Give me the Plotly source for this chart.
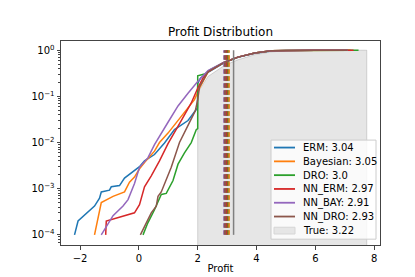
import plotly.graph_objects as go

# ---------------- data ----------------
labels = ["ERM", "Bayesian", "DRO", "NN_ERM", "NN_BAY", "NN_DRO"]
means = [3.04, 3.05, 3.0, 2.97, 2.91, 2.93]
true_mean = 3.22
colors = ["#1f77b4", "#ff7f0e", "#2ca02c", "#d62728", "#9467bd", "#8c564b"]

erm_x = [-2.19, -2.07, -1.51, -1.45, -1.34, -1.28, -1.0, -0.94, -0.66, -0.49, -0.2, 0.02, 0.19, 0.53,
         0.87, 1.21, 1.67, 1.95, 1.99, 2.0, 2.1, 2.35, 2.91, 3.37, 3.94, 4.5, 5.0, 6.0, 7.1]
erm_p = [1e-4, 2e-4, 4.2e-4, 4.9e-4, 6.2e-4, 8.5e-4, 9.3e-4, 1.1e-3, 1.17e-3, 1.7e-3, 2.3e-3, 3.0e-3, 4.0e-3, 5.5e-3,
         9.8e-3, 1.9e-2, 3.0e-2, 5.2e-2, 5.6e-2, 0.19, 0.25, 0.33, 0.54, 0.70, 0.86, 0.96, 0.985, 0.998, 1.0]

bay_x = [-1.51, -1.34, -1.28, -0.88, -0.49, -0.32, -0.15, 0.02, 0.19, 0.53, 0.70, 0.99, 1.44, 1.89, 2.06,
         2.35, 2.91, 3.37, 3.94, 4.5, 5.0, 6.0, 7.2]
bay_p = [1e-4, 3.0e-4, 5.0e-4, 6.8e-4, 8.5e-4, 1.38e-3, 1.78e-3, 2.7e-3, 3.7e-3, 6.5e-3, 1.0e-2, 1.6e-2, 3.8e-2,
         8.5e-2, 0.15, 0.34, 0.55, 0.71, 0.87, 0.97, 0.99, 0.998, 1.0]

dro_x = [0.14, 0.30, 0.53, 0.70, 0.76, 0.93, 1.16, 1.33, 1.55, 1.78, 1.95, 2.0, 2.0, 2.26, 2.4, 2.91, 3.37,
         3.94, 4.5, 5.0, 6.0, 7.47]
dro_p = [1e-4, 1.8e-4, 3.5e-4, 6.2e-4, 7.5e-4, 7.9e-4, 1.5e-3, 3.4e-3, 6.0e-3, 1.0e-2, 1.9e-2, 2.0e-2, 0.28,
         0.31, 0.37, 0.55, 0.71, 0.87, 0.97, 0.99, 0.998, 1.0]

nnerm_x = [-1.13, -1.11, -0.15, 0.02, 0.19, 0.42, 0.70, 0.99, 1.44, 1.78, 2.0, 2.18, 2.35, 2.91, 3.37, 3.94,
           4.5, 5.0, 6.0, 7.3]
nnerm_p = [1e-4, 2e-4, 3.0e-4, 4.5e-4, 1.1e-3, 1.9e-3, 4.0e-3, 9.5e-3, 3.0e-2, 7.2e-2, 0.15, 0.25, 0.34, 0.55,
           0.71, 0.87, 0.97, 0.99, 0.998, 1.0]

nnbay_x = [-1.28, -0.88, -0.54, -0.37, -0.15, 0.02, 0.31, 0.53, 0.99, 1.33, 1.67, 2.0, 2.35, 2.91, 3.37, 3.94,
           4.5, 5.0, 6.0, 7.1]
nnbay_p = [1e-4, 2.6e-4, 4.2e-4, 5.8e-4, 1.3e-3, 2.9e-3, 4.7e-3, 9.0e-3, 2.75e-2, 6.2e-2, 0.117, 0.21, 0.36,
           0.56, 0.71, 0.87, 0.97, 0.99, 0.998, 1.0]

nndro_x = [0.05, 0.25, 0.42, 0.59, 0.65, 0.76, 0.87, 1.10, 1.38, 1.67, 1.92, 2.0, 2.06, 2.35, 2.91, 3.37, 3.94,
           4.5, 5.0, 6.0, 7.1]
nndro_p = [1e-4, 1.9e-4, 3.0e-4, 4.2e-4, 6.8e-4, 8.5e-4, 1.3e-3, 2.9e-3, 1.0e-2, 2.3e-2, 4.9e-2, 8.5e-2, 0.16,
           0.34, 0.55, 0.71, 0.87, 0.97, 0.99, 0.998, 1.0]

true_x = [2.0, 2.35, 2.91, 3.37, 3.94, 4.5, 5.0, 6.0, 7.0, 7.75]
true_p = [0.12, 0.27, 0.47, 0.62, 0.80, 0.92, 0.97, 0.995, 1.0, 1.0]
true_floor = 1e-6

series_x = [erm_x, bay_x, dro_x, nnerm_x, nnbay_x, nndro_x]
series_p = [erm_p, bay_p, dro_p, nnerm_p, nnbay_p, nndro_p]

x_ticks = [-2, 0, 2, 4, 6, 8]
x_ticktext = ["\u22122", "0", "2", "4", "6", "8"]
y_ticks = [1e-4, 1e-3, 1e-2, 1e-1, 1]
y_ticktext = ["10<sup>\u22124</sup>", "10<sup>\u22123</sup>", "10<sup>\u22122</sup>",
              "10<sup>\u22121</sup>", "10<sup>0</sup>"]
legend_texts = [f"{l}: {m}" for l, m in zip(labels, means)] + [f"True: {true_mean}"]

# ---------------- figure ----------------
W, H = 415, 277
L, R, T, B = 53, 372, 33, 243
FONT = "DejaVu Sans"

fig = go.Figure()

# true distribution fill
fig.add_trace(go.Scatter(
    x=[true_x[0]] + true_x + [true_x[-1], true_x[0]],
    y=[true_floor] + true_p + [true_floor, true_floor],
    mode="lines", fill="toself", fillcolor="rgba(128,128,128,0.2)",
    line=dict(color="rgba(128,128,128,0.3)", width=1), showlegend=False, hoverinfo="skip"))

for xs, ps, c in zip(series_x, series_p, colors):
    fig.add_trace(go.Scatter(x=xs, y=ps, mode="lines", line=dict(color=c, width=1.5), showlegend=False))

ymin, ymax = 1e-4, 1.0
for m, c in zip(means, colors):
    fig.add_trace(go.Scatter(x=[m, m], y=[ymin, ymax], mode="lines",
                             line=dict(color=c, width=2.5, dash="4.5px,2.5px"), showlegend=False))
fig.add_trace(go.Scatter(x=[true_mean, true_mean], y=[ymin, ymax], mode="lines",
                         line=dict(color="#808080", width=1.5), showlegend=False))

# ---------- manual legend (matplotlib-like) ----------
def px(v):
    return (v - L) / (R - L)

def py(v):
    return (B - v) / (B - T)

shapes = [dict(type="rect", xref="paper", yref="paper", x0=px(263), x1=px(368), y0=py(237), y1=py(135),
               fillcolor="rgba(255,255,255,0.8)", line=dict(color="#cccccc", width=1), layer="above")]
annotations = []
row_y = [142.7, 156.9, 171.1, 185.3, 199.5, 213.7, 228.2]
for i, txt in enumerate(legend_texts):
    yy = row_y[i]
    if i < len(colors):
        shapes.append(dict(type="line", xref="paper", yref="paper", x0=px(266), x1=px(287), y0=py(yy), y1=py(yy),
                           line=dict(color=colors[i], width=1.8), layer="above"))
    else:
        shapes.append(dict(type="rect", xref="paper", yref="paper", x0=px(266), x1=px(287),
                           y0=py(yy + 3.5), y1=py(yy - 3.5), fillcolor="#e6e6e6",
                           line=dict(color="#d6d6d6", width=1), layer="above"))
    annotations.append(dict(xref="paper", yref="paper", x=px(293), y=py(yy), text=txt, showarrow=False,
                            xanchor="left", yanchor="middle", font=dict(family=FONT, size=10, color="#000")))

minor_vals = [k * 10 ** e for e in range(-5, 1) for k in range(2, 10)]

fig.update_layout(
    width=W, height=H, margin=dict(l=L, r=W - R, t=T, b=H - B),
    paper_bgcolor="white", plot_bgcolor="white",
    font=dict(family=FONT, size=10, color="#000"),
    title=dict(text="Profit Distribution", x=(L + R) / 2 / W, xanchor="center", y=1 - 23.5 / H,
               yanchor="middle", font=dict(family=FONT, size=12, color="#000")),
    shapes=shapes, annotations=annotations, showlegend=False,
    xaxis=dict(range=[-2.65, 8.2], tickmode="array", tickvals=x_ticks, ticktext=x_ticktext,
               showgrid=False, zeroline=False, showline=True, linecolor="#444", linewidth=1, mirror=True,
               ticks="outside", ticklen=3.5, tickwidth=0.8, tickcolor="#444",
               title=dict(text="Profit", standoff=2, font=dict(family=FONT, size=10))),
    yaxis=dict(type="log", range=[-4.22, 0.2], tickmode="array", tickvals=y_ticks, ticktext=y_ticktext,
               showgrid=False, zeroline=False, showline=True, linecolor="#444", linewidth=1, mirror=True,
               ticks="outside", ticklen=3.5, tickwidth=0.8, tickcolor="#444",
               minor=dict(tickmode="array", tickvals=minor_vals, ticks="outside", ticklen=2,
                          tickwidth=0.6, tickcolor="#444", showgrid=False)),
)

fig.write_html("out.html")
